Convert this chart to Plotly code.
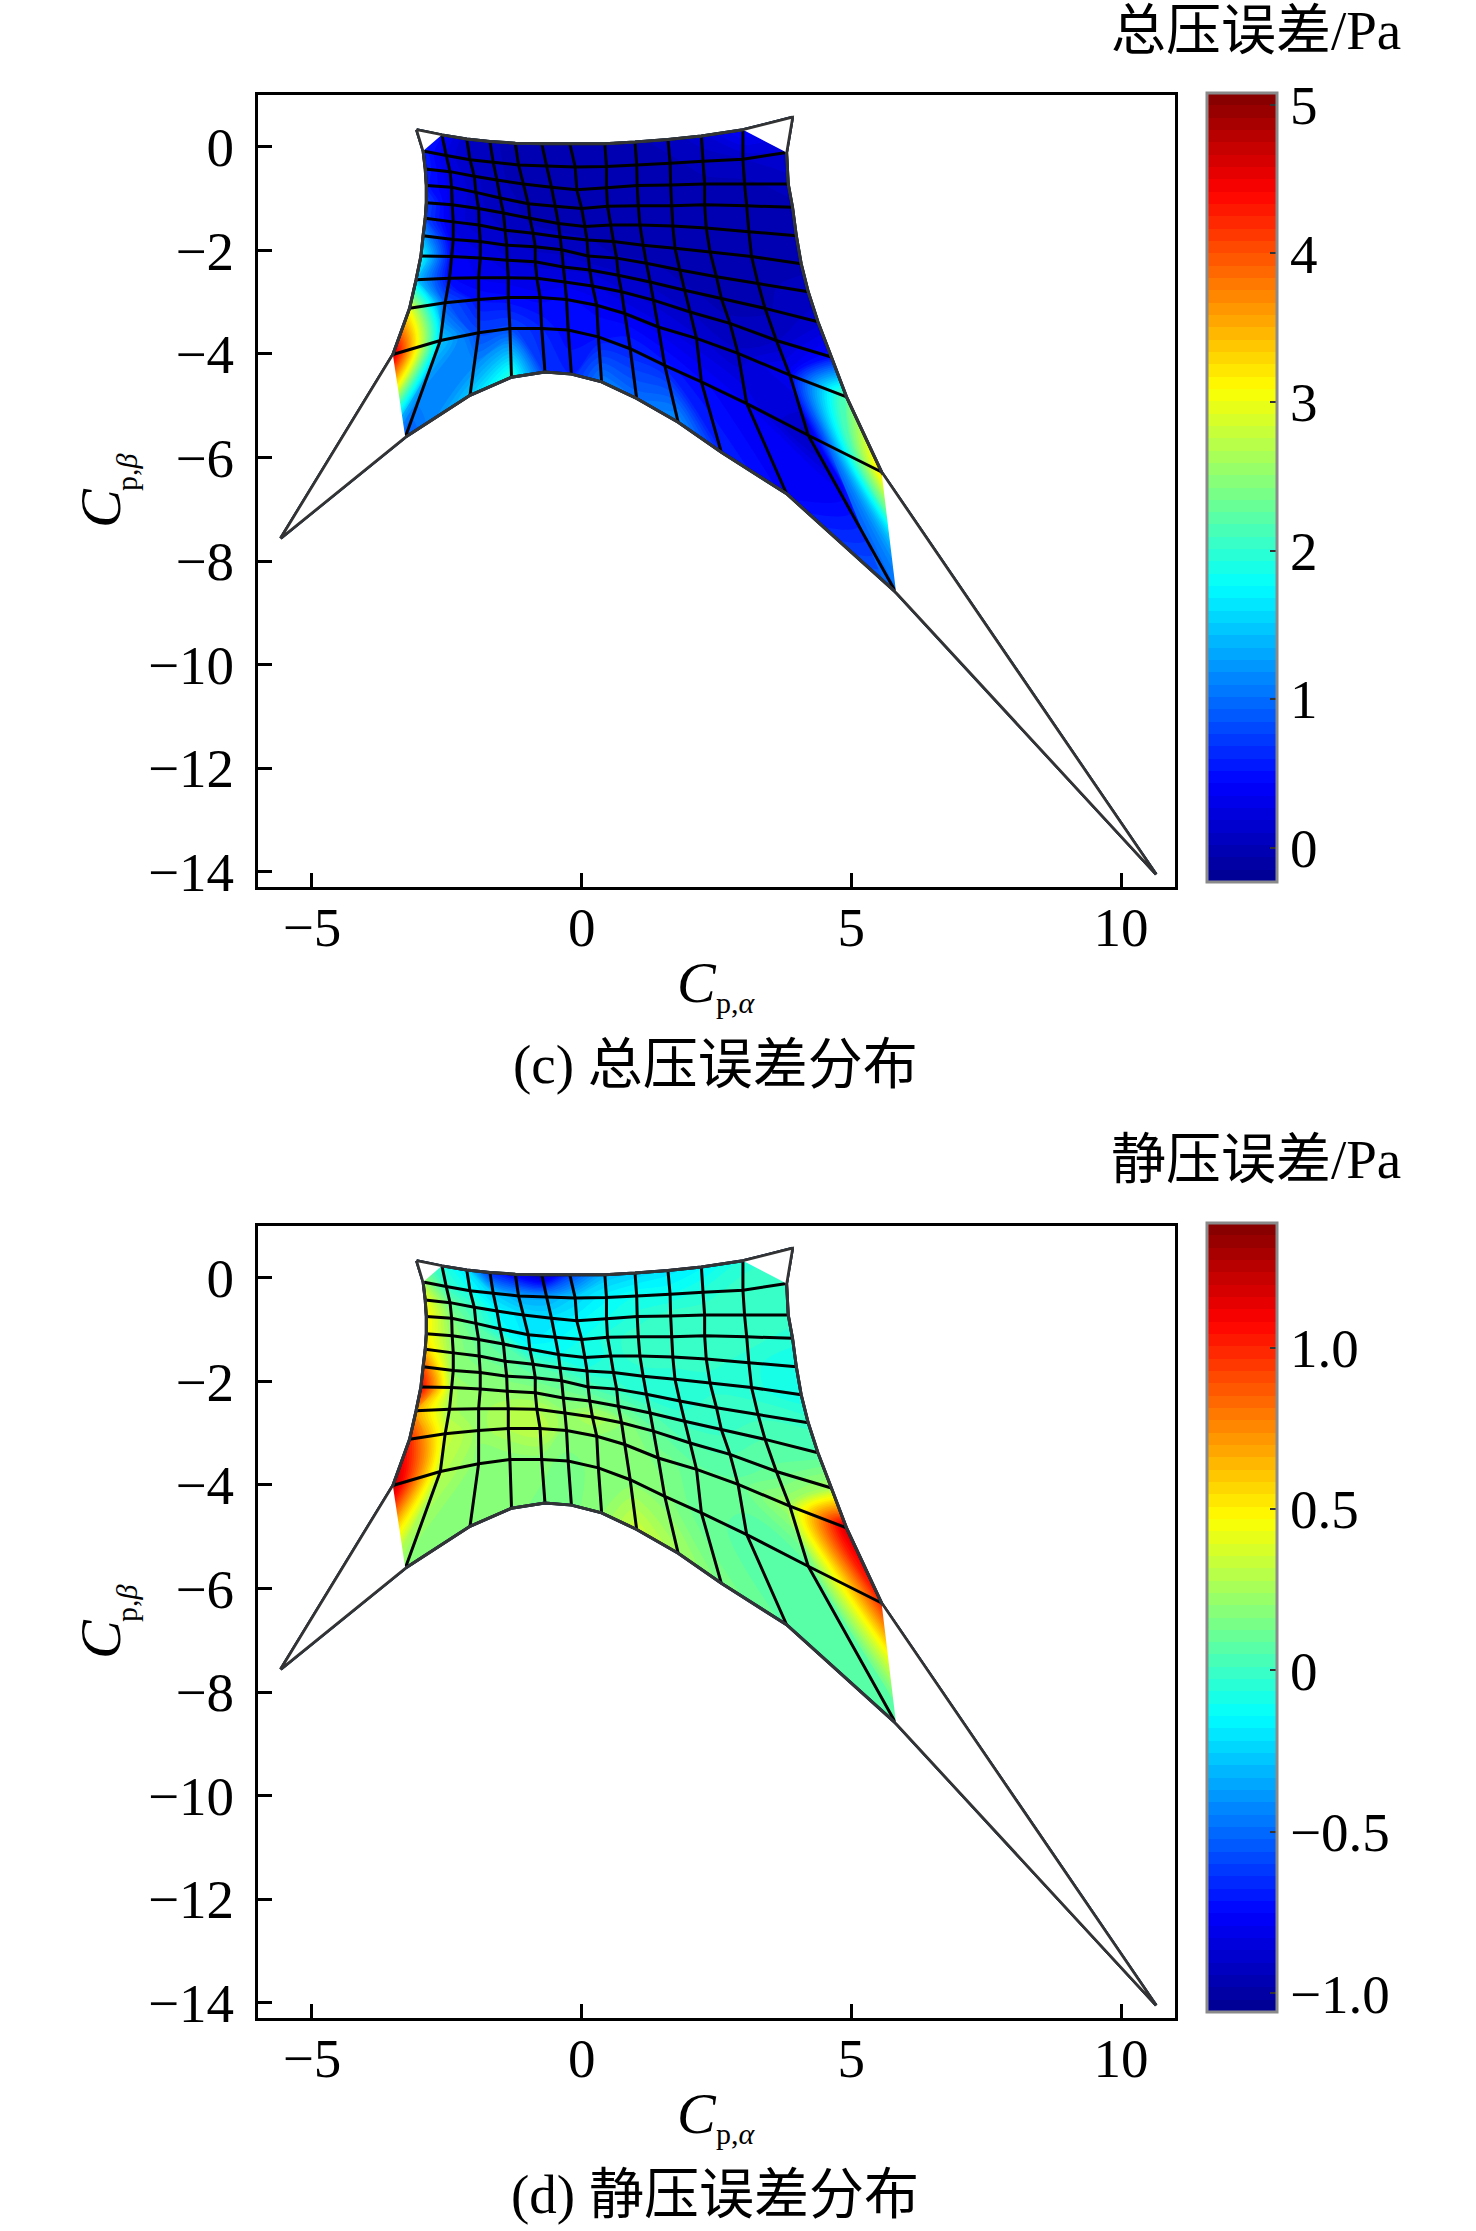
import plotly.graph_objects as go

W, H = 1476, 2231

# Mesh nodes (rows j = 0..11, columns i = 0..12), read in data units
mesh_x = [
 [-3.06,-2.59,-2.13,-1.70,-1.23,-0.74,-0.22,0.43,0.99,1.60,2.22,2.99,3.91],
 [-2.94,-2.51,-2.07,-1.64,-1.17,-0.65,-0.12,0.46,1.02,1.64,2.25,2.99,3.80],
 [-2.90,-2.44,-1.99,-1.57,-1.08,-0.56,-0.09,0.46,1.03,1.65,2.28,3.02,3.83],
 [-2.88,-2.41,-1.96,-1.51,-0.99,-0.49,0.00,0.48,1.05,1.67,2.28,3.06,3.91],
 [-2.88,-2.40,-1.91,-1.45,-0.96,-0.43,0.06,0.54,1.08,1.69,2.31,3.10,3.98],
 [-2.90,-2.38,-1.90,-1.42,-0.90,-0.40,0.10,0.59,1.14,1.73,2.38,3.15,4.07],
 [-2.94,-2.38,-1.88,-1.39,-0.86,-0.37,0.12,0.65,1.20,1.82,2.50,3.27,4.20],
 [-2.98,-2.41,-1.88,-1.38,-0.86,-0.34,0.15,0.68,1.27,1.91,2.59,3.40,4.38],
 [-3.07,-2.45,-1.91,-1.36,-0.83,-0.31,0.20,0.74,1.33,2.01,2.75,3.61,4.63],
 [-3.19,-2.53,-1.91,-1.36,-0.77,-0.28,0.28,0.80,1.42,2.13,2.90,3.86,4.91],
 [-3.50,-2.62,-1.91,-1.33,-0.74,-0.25,0.31,0.90,1.54,2.22,3.06,4.20,5.56],
 [-5.58,-3.27,-2.07,-1.30,-0.68,-0.19,0.37,1.02,1.79,2.59,3.80,5.83,10.65],
]
mesh_y = [
 [0.33,0.23,0.15,0.10,0.07,0.06,0.06,0.06,0.09,0.14,0.21,0.33,0.57],
 [-0.08,-0.17,-0.25,-0.30,-0.35,-0.37,-0.39,-0.38,-0.35,-0.32,-0.28,-0.24,-0.11],
 [-0.43,-0.48,-0.57,-0.64,-0.72,-0.78,-0.83,-0.79,-0.75,-0.74,-0.72,-0.72,-0.72],
 [-0.75,-0.78,-0.88,-0.99,-1.10,-1.15,-1.19,-1.15,-1.14,-1.14,-1.12,-1.14,-1.17],
 [-1.08,-1.12,-1.19,-1.28,-1.38,-1.48,-1.54,-1.51,-1.51,-1.53,-1.57,-1.64,-1.72],
 [-1.38,-1.45,-1.51,-1.61,-1.67,-1.74,-1.80,-1.83,-1.90,-1.96,-2.03,-2.12,-2.26],
 [-1.72,-1.79,-1.83,-1.90,-1.93,-1.99,-2.11,-2.15,-2.25,-2.38,-2.51,-2.64,-2.80],
 [-2.11,-2.12,-2.15,-2.19,-2.22,-2.32,-2.38,-2.48,-2.61,-2.77,-2.93,-3.12,-3.38],
 [-2.57,-2.54,-2.53,-2.53,-2.54,-2.61,-2.69,-2.80,-2.96,-3.19,-3.41,-3.74,-4.06],
 [-3.12,-3.01,-2.95,-2.91,-2.91,-2.95,-3.06,-3.22,-3.48,-3.70,-3.99,-4.41,-4.83],
 [-4.01,-3.74,-3.59,-3.51,-3.51,-3.54,-3.67,-3.90,-4.22,-4.54,-4.96,-5.57,-6.28],
 [-7.56,-5.61,-4.80,-4.45,-4.35,-4.39,-4.54,-4.86,-5.32,-5.90,-6.70,-8.61,-14.05],
]
col_index = list(range(13))
row_index = list(range(12))

# Total-pressure error at the nodes (Pa)
total_err = [
 [None,.45,.1,.03,.0,.0,.0,.0,.0,.05,.15,.45,None],
 [.6,.25,.08,.03,.0,.0,.0,.0,.0,.0,.05,.1,.2],
 [.6,.25,.12,.03,.0,.0,.0,.0,.0,.0,.0,.0,.05],
 [.55,.3,.12,.05,.0,.0,-.03,-.03,.0,.0,.0,.0,.0],
 [.8,.25,.12,.06,.0,.0,-.03,-.03,-.03,-.03,.0,.0,.0],
 [.8,.25,.12,.1,.05,.03,.03,-.03,-.03,-.03,-.03,.0,.0],
 [1.3,.3,.22,.12,.08,.08,.05,.03,.03,.0,-.03,.0,.05],
 [1.8,.4,.3,.2,.15,.15,.15,.12,.08,.03,.0,.0,.15],
 [1.5,.45,.35,.3,.25,.3,.28,.2,.15,.1,.03,.1,.5],
 [3.0,.9,.5,.45,.4,.45,.4,.35,.3,.2,.12,.4,2.3],
 [4.7,1.5,.8,.8,.6,.45,.5,.6,.55,.45,.35,.05,3.3],
 [None,.9,1.5,2.0,.7,.6,1.1,1.0,1.2,.6,.4,1.0,None],
]
# Static-pressure error at the nodes (Pa)
static_err = [
 [None,-.05,-.2,-.65,-.8,-.95,-.6,-.3,-.25,-.2,-.15,-.05,None],
 [.25,0,-.1,-.25,-.35,-.35,-.25,-.15,-.1,-.1,-.05,0,0],
 [.45,.1,0,-.15,-.2,-.2,-.15,-.1,-.05,0,0,0,0],
 [.5,.17,.05,-.1,-.2,-.15,-.1,-.05,0,0,0,0,-.05],
 [.5,.2,.1,.05,-.1,-.1,-.1,-.05,0,0,0,-.05,-.1],
 [.6,.2,.13,.1,.05,0,-.05,-.05,-.05,-.05,-.05,-.05,-.1],
 [.9,.2,.18,.15,.1,.1,.05,0,-.05,-.05,0,0,0],
 [1.1,.25,.2,.2,.2,.15,.15,.1,.05,0,0,.05,.05],
 [.7,.25,.22,.28,.28,.22,.28,.2,.1,.05,.05,.1,.25],
 [1.0,.35,.22,.28,.32,.2,.2,.2,.15,.1,.1,.25,1.2],
 [1.25,.3,.18,.18,.18,.15,.18,.18,.18,.1,.08,.08,1.0],
 [None,.18,.18,.18,.15,.15,.2,.35,.25,.15,.08,.05,None],
]

total_range = [-0.23, 5.08]
static_range = [-1.057, 1.387]
total_ticks = [0, 1, 2, 3, 4, 5]
static_ticks = [-1.0, -0.5, 0, 0.5, 1.0]
static_ticktext = ["\u22121.0", "\u22120.5", "0", "0.5", "1.0"]
x_ticks = [-5, 0, 5, 10]
y_ticks = [0, -2, -4, -6, -8, -10, -12, -14]
x_range = [-6, 11]
y_range = [-14.3, 1]
n_bands = 64

jet = [[0, "rgb(0,0,143)"], [.125, "rgb(0,0,255)"], [.375, "rgb(0,255,255)"],
       [.625, "rgb(255,255,0)"], [.875, "rgb(255,0,0)"], [1, "rgb(128,0,0)"]]

SERIF = "Liberation Serif, Noto Sans CJK SC, serif"
FS = 55
fx = lambda p: p / W
fy = lambda p: 1 - p / H

panels = [
 dict(xa="x", ya="y", top=95, bot=887.3, cb_top=93, cb_bot=882, z=total_err, rng=total_range,
      ticks=total_ticks, ticktext=[str(t) for t in total_ticks], cid="c1", title="总压误差/Pa", title_y=30,
      caption="(c) 总压误差分布", cap_y=1065),
 dict(xa="x2", ya="y2", top=1226, bot=2018.3, cb_top=1222.7, cb_bot=2012, z=static_err, rng=static_range,
      ticks=static_ticks, ticktext=static_ticktext, cid="c2", title="静压误差/Pa", title_y=1159,
      caption="(d) 静压误差分布", cap_y=2194),
]

fig = go.Figure()
anns = []

def note(text, px, py, size=FS, angle=0, xanchor="center"):
    anns.append(dict(text=text, x=fx(px), y=fy(py), xref="paper", yref="paper", showarrow=False,
                     xanchor=xanchor, yanchor="middle", textangle=angle, borderpad=0,
                     font=dict(family=SERIF, size=size, color="black")))

for p in panels:
    lo, hi = p["rng"]
    fig.add_trace(go.Contourcarpet(
        carpet=p["cid"], a=col_index * 12, b=[r for r in row_index for _ in col_index],
        z=[v for row in p["z"] for v in row], xaxis=p["xa"], yaxis=p["ya"],
        autocontour=False, zmin=lo, zmax=hi,
        contours=dict(start=lo, end=hi, size=(hi - lo) / n_bands, coloring="fill", showlines=False),
        line=dict(width=0), colorscale=jet,
        colorbar=dict(x=fx(1207), xanchor="left", xpad=0, ypad=0, y=fy(p["cb_top"]), yanchor="top",
                      len=p["cb_bot"] - p["cb_top"], lenmode="pixels", thickness=70,
                      outlinecolor="#8a8a8a", outlinewidth=3, tickmode="array",
                      tickvals=p["ticks"], ticktext=p["ticktext"], ticks="inside", ticklen=8,
                      tickcolor="#333", tickwidth=2,
                      tickfont=dict(family=SERIF, size=FS, color="black"), tickprefix="\u00a0\u2009"),
    ))
    grid_axis = dict(smoothing=0, tickmode="linear", dtick=1, showticklabels="none", minorgridcount=0,
                     gridcolor="#000", gridwidth=3, linecolor="#333", linewidth=2.5, startline=True, endline=True)
    fig.add_trace(go.Carpet(
        carpet=p["cid"], a=col_index, b=row_index, x=mesh_x, y=mesh_y, xaxis=p["xa"], yaxis=p["ya"],
        aaxis=grid_axis, baxis=grid_axis,
    ))
    # White corners of the mesh: the outer cells are only half coloured
    nr, nc = 11, 12
    mx, my = [], []
    for (r0, c0, r1, c1, r2, c2) in [(0, 0, 0, 1, 1, 0), (0, nc, 0, nc - 1, 1, nc),
                                     (nr, 0, nr, 1, nr - 1, 0), (nr, nc, nr, nc - 1, nr - 1, nc)]:
        mx += [mesh_x[r0][c0], mesh_x[r1][c1], mesh_x[r2][c2], mesh_x[r0][c0], None]
        my += [mesh_y[r0][c0], mesh_y[r1][c1], mesh_y[r2][c2], mesh_y[r0][c0], None]
    fig.add_trace(go.Scatter(x=mx, y=my, mode="lines", fill="toself", fillcolor="white",
                             line=dict(width=0), xaxis=p["xa"], yaxis=p["ya"], showlegend=False, hoverinfo="skip"))
    # Mesh outline
    ox = mesh_x[0] + [r[-1] for r in mesh_x] + mesh_x[-1][::-1] + [r[0] for r in mesh_x][::-1]
    oy = mesh_y[0] + [r[-1] for r in mesh_y] + mesh_y[-1][::-1] + [r[0] for r in mesh_y][::-1]
    fig.add_trace(go.Scatter(x=ox, y=oy, mode="lines", line=dict(width=2.5, color="#333"),
                             xaxis=p["xa"], yaxis=p["ya"], showlegend=False, hoverinfo="skip"))

    note(p["title"], 1402, p["title_y"], xanchor="right")
    note(p["caption"], 715, p["cap_y"])
    note("<i>C</i>", 697, p["bot"] + 95, size=58)
    note("p,<i>α</i>", 736, p["bot"] + 115, size=30)
    note("<i>C</i>", 100, p["top"] + 413, size=58, angle=-90)
    note("p,<i>β</i>", 126, p["top"] + 377, size=30, angle=-90)

axis_common = dict(showline=True, mirror=True, linecolor="black", linewidth=3, showgrid=False, zeroline=False,
                   ticks="inside", ticklen=14, tickwidth=2.5, tickcolor="black", tickmode="array",
                   tickfont=dict(family=SERIF, size=FS, color="black"))
layout = dict(width=W, height=H, margin=dict(l=0, r=0, t=0, b=0, autoexpand=False), paper_bgcolor="white",
              plot_bgcolor="white", showlegend=False, annotations=anns)
for idx, p in enumerate(panels):
    s = "" if idx == 0 else "2"
    layout["xaxis" + s] = dict(axis_common, domain=[fx(258), fx(1175)], range=x_range, tickvals=x_ticks,
                               anchor="y" + s, ticklabelstandoff=-10)
    layout["yaxis" + s] = dict(axis_common, domain=[fy(p["bot"]), fy(p["top"])], range=y_range, tickvals=y_ticks,
                               anchor="x" + s, ticklabelstandoff=10)
fig.update_layout(**layout)
fig.write_html("out.html", config={"displayModeBar": False}, post_script="document.body.style.margin='0';")
